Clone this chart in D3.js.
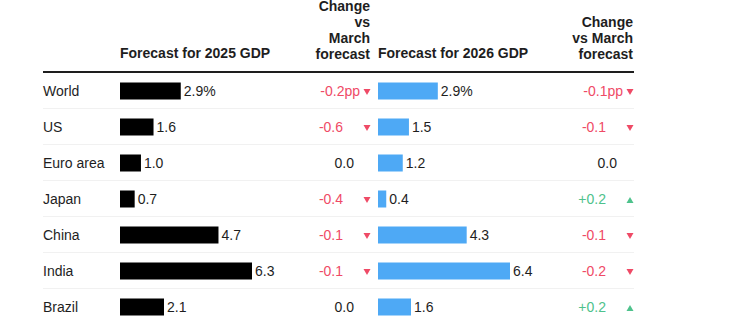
<!DOCTYPE html>
<html>
<head>
<meta charset="utf-8">
<script src="https://cdnjs.cloudflare.com/ajax/libs/d3/7.8.5/d3.min.js"></script>
<style>
  body { margin: 0; background: #fff; }
  svg text { font-family: "Liberation Sans", Arial, sans-serif; fill: #1e1e1e; }
  .head { font-weight: bold; font-size: 14px; }
  .cell { font-size: 14px; }
</style>
</head>
<body>
<script>
// IMF-style GDP forecasts by economy
var countries = ["World", "US", "Euro area", "Japan", "China", "India", "Brazil"];
var gdp2025 = [2.9, 1.6, 1.0, 0.7, 4.7, 6.3, 2.1];
var change2025 = [-0.2, -0.6, 0.0, -0.4, -0.1, -0.1, 0.0];
var gdp2026 = [2.9, 1.5, 1.2, 0.4, 4.3, 6.4, 1.6];
var change2026 = [-0.1, -0.1, 0.0, 0.2, -0.1, -0.2, 0.2];

var width = 730, height = 327;
var left = 43, right = 634;
var red = "#ef4a66", green = "#4ec28c", blue = "#4ea9f5";

var svg = d3.select("body").append("svg")
    .attr("width", width)
    .attr("height", height);

var y = d3.scaleBand()
    .domain(countries)
    .range([72, 324]);

var barH = 17;

// columns: bar start, bar scale, arrow x
var cols = [
  { x0: 120, values: gdp2025, changes: change2025, arrowX: 367,
    scale: d3.scaleLinear().domain([0, d3.max(gdp2025)]).range([0, 132]) },
  { x0: 378, values: gdp2026, changes: change2026, arrowX: 630,
    scale: d3.scaleLinear().domain([0, d3.max(gdp2026)]).range([0, 132]) }
];

// headers
svg.append("text").attr("class", "head")
    .attr("x", 120).attr("y", 58).text("Forecast for 2025 GDP");
svg.append("text").attr("class", "head")
    .attr("x", 378).attr("y", 58).text("Forecast for 2026 GDP");

var h1 = svg.append("text").attr("class", "head").attr("text-anchor", "end");
["Change", "vs", "March", "forecast"].forEach(function(t, i) {
  h1.append("tspan").attr("x", 370).attr("y", 10.5 + i * 16).text(t);
});
var h2 = svg.append("text").attr("class", "head").attr("text-anchor", "end");
["Change", "vs March", "forecast"].forEach(function(t, i) {
  h2.append("tspan").attr("x", 633).attr("y", 26.5 + i * 16).text(t);
});

// row separators
svg.selectAll("line.sep")
    .data(countries.slice(1))
  .enter().append("line")
    .attr("class", "sep")
    .attr("x1", left).attr("x2", right)
    .attr("y1", function(d) { return y(d) + 0.5; })
    .attr("y2", function(d) { return y(d) + 0.5; })
    .attr("stroke", "#f1f1f1");

// header rule
svg.append("line")
    .attr("x1", left).attr("x2", right)
    .attr("y1", 72).attr("y2", 72)
    .attr("stroke", "#1e1e1e").attr("stroke-width", 2);

var rowMid = function(d) { return y(d) + y.bandwidth() / 2 + 1; };

// country labels
svg.selectAll("text.country")
    .data(countries)
  .enter().append("text")
    .attr("class", "cell")
    .attr("x", left)
    .attr("y", function(d) { return rowMid(d) + 5; })
    .text(function(d) { return d; });

cols.forEach(function(c, ci) {
  var g = svg.append("g");
  g.selectAll("rect")
      .data(countries)
    .enter().append("rect")
      .attr("x", c.x0)
      .attr("y", function(d) { return rowMid(d) - barH / 2; })
      .attr("width", function(d, i) { return c.scale(c.values[i]); })
      .attr("height", barH)
      .attr("fill", ci === 0 ? "#000" : blue);

  g.selectAll("text.val")
      .data(countries)
    .enter().append("text")
      .attr("class", "cell")
      .attr("x", function(d, i) { return c.x0 + c.scale(c.values[i]) + 3; })
      .attr("y", function(d) { return rowMid(d) + 5; })
      .text(function(d, i) { return c.values[i].toFixed(1) + (i === 0 ? "%" : ""); });

  // change vs March
  g.selectAll("text.chg")
      .data(countries)
    .enter().append("text")
      .attr("class", "cell")
      .attr("text-anchor", "end")
      .attr("x", function(d, i) {
        var v = c.changes[i];
        if (i === 0) return c.arrowX - 7;
        if (v === 0) return c.arrowX - 13;
        return c.arrowX - 24;
      })
      .attr("y", function(d) { return rowMid(d) + 5; })
      .style("fill", function(d, i) {
        var v = c.changes[i];
        return v < 0 ? red : v > 0 ? green : "#1e1e1e";
      })
      .text(function(d, i) {
        var v = c.changes[i];
        var s = v > 0 ? "+" + v.toFixed(1) : v.toFixed(1);
        return s + (i === 0 ? "pp" : "");
      });

  g.selectAll("path.arrow")
      .data(countries.filter(function(d, i) { return c.changes[i] !== 0; }))
    .enter().append("path")
      .attr("d", function(d) {
        var i = countries.indexOf(d);
        var cx = c.arrowX, cy = rowMid(d) + 1;
        if (c.changes[i] < 0)
          return "M" + (cx - 3.5) + "," + (cy - 3) + "L" + (cx + 3.5) + "," + (cy - 3) + "L" + cx + "," + (cy + 3) + "Z";
        return "M" + (cx - 3.5) + "," + (cy + 3) + "L" + (cx + 3.5) + "," + (cy + 3) + "L" + cx + "," + (cy - 3) + "Z";
      })
      .attr("fill", function(d) {
        return c.changes[countries.indexOf(d)] < 0 ? red : green;
      });
});
</script>
</body>
</html>
